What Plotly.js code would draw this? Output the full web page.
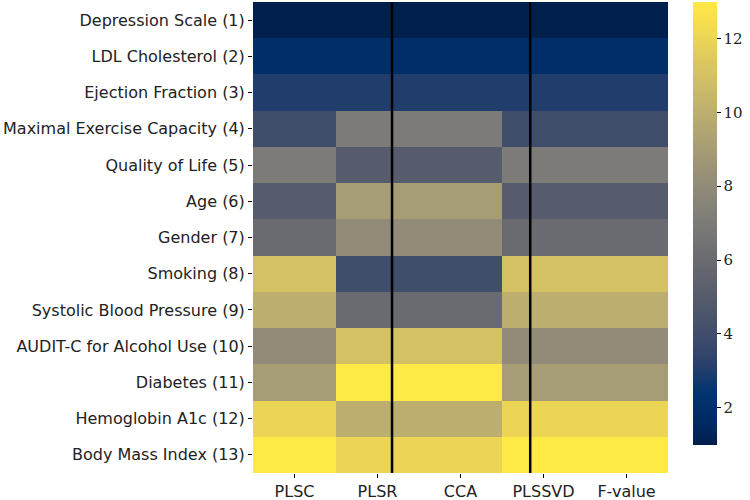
<!DOCTYPE html>
<html>
<head>
<meta charset="utf-8">
<script src="https://cdn.plot.ly/plotly-3.0.1.min.js"></script>
<style>html,body{margin:0;padding:0;background:#fff;}#chart{width:750px;height:500px;}</style>
</head>
<body>
<div id="chart"></div>
<script>
const features = [
  "Depression Scale (1)",
  "LDL Cholesterol (2)",
  "Ejection Fraction (3)",
  "Maximal Exercise Capacity (4)",
  "Quality of Life (5)",
  "Age (6)",
  "Gender (7)",
  "Smoking (8)",
  "Systolic Blood Pressure (9)",
  "AUDIT-C for Alcohol Use (10)",
  "Diabetes (11)",
  "Hemoglobin A1c (12)",
  "Body Mass Index (13)"
];
const methods = ["PLSC", "PLSR", "CCA", "PLSSVD", "F-value"];
const PLSC    = [1, 2, 3, 4, 7, 5, 6, 11, 10, 8, 9, 12, 13];
const PLSR    = [1, 2, 3, 7, 5, 9, 8, 4, 6, 11, 13, 10, 12];
const CCA     = [1, 2, 3, 7, 5, 9, 8, 4, 6, 11, 13, 10, 12];
const PLSSVD  = [1, 2, 3, 4, 7, 5, 6, 11, 10, 8, 9, 12, 13];
const Fvalue  = [1, 2, 3, 4, 7, 5, 6, 11, 10, 8, 9, 12, 13];
const colorTicks = [2, 4, 6, 8, 10, 12];
const dividerPositions = [1.175, 2.84];

const columns = [PLSC, PLSR, CCA, PLSSVD, Fvalue];
const z = features.map((f, i) => columns.map(col => col[i]));

const trace = {
  type: "heatmap",
  x: methods,
  y: features,
  z: z,
  zmin: 1,
  zmax: 13,
  colorscale: "Cividis",
  showscale: true,
  hoverongaps: false,
  colorbar: {
    xref: "container", x: 693 / 750, xanchor: "left",
    yref: "container", y: 28 / 500, yanchor: "bottom", len: 470 / 500, lenmode: "fraction",
    xpad: 0, ypad: 0,
    thickness: 24, thicknessmode: "pixels",
    outlinewidth: 0,
    tickvals: colorTicks,
    ticks: "outside", ticklen: 4, tickwidth: 1, tickcolor: "#000",
    tickfont: {family: "DejaVu Serif, serif", size: 15, color: "#222"}
  }
};

const shapes = dividerPositions.map(p => ({
  type: "line", xref: "x", yref: "paper",
  x0: p, x1: p, y0: 0, y1: 1,
  line: {color: "#000", width: 2.5}
}));

const layout = {
  width: 750, height: 500,
  margin: {l: 253, r: 82, t: 2, b: 27, pad: 0},
  paper_bgcolor: "#fff", plot_bgcolor: "#fff",
  xaxis: {
    type: "category", showgrid: false, zeroline: false, showline: false,
    ticks: "outside", ticklen: 4, tickwidth: 1, tickcolor: "#000",
    tickfont: {family: "DejaVu Sans, sans-serif", size: 16, color: "#222"}
  },
  yaxis: {
    type: "category", autorange: "reversed", showgrid: false, zeroline: false, showline: false,
    ticks: "outside", ticklen: 4, tickwidth: 1, tickcolor: "#000",
    tickfont: {family: "DejaVu Sans, sans-serif", size: 16, color: "#222"}
  },
  shapes: shapes,
  showlegend: false
};

Plotly.newPlot("chart", [trace], layout, {displayModeBar: false, staticPlot: true});
</script>
</body>
</html>
